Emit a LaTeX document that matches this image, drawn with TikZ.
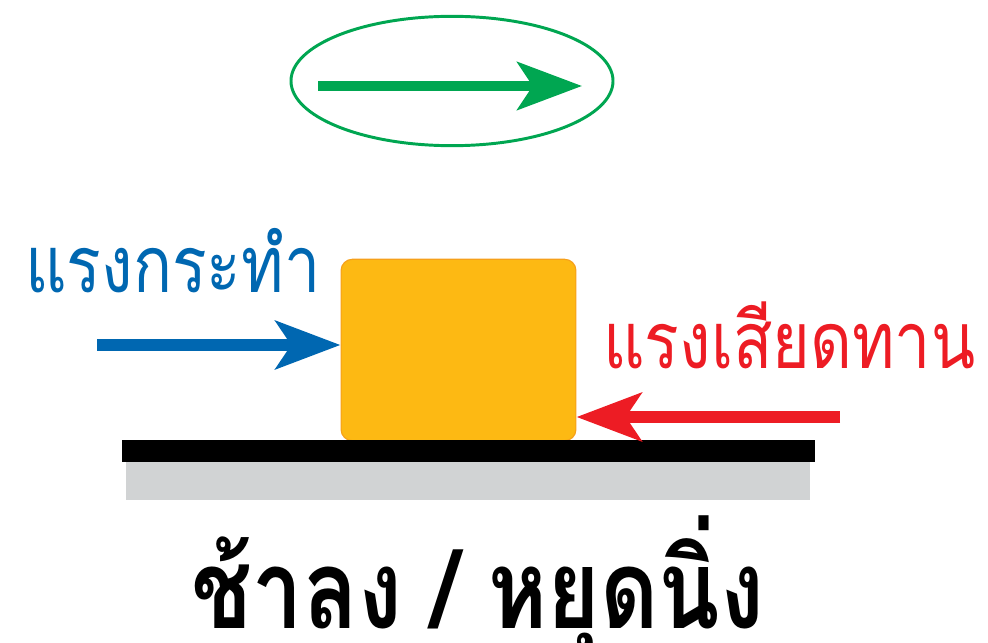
\documentclass[tikz,border=0pt]{standalone}
\usepackage{fontspec}
\newfontfamily\thaifont[Script=Thai, FakeStretch=0.82]{Loma}
\usetikzlibrary{arrows.meta, positioning, shapes.geometric}
\definecolor{pushblue}{HTML}{0067B1}
\definecolor{fricred}{HTML}{ED1C24}
\definecolor{movegreen}{HTML}{00A651}
\definecolor{blockorange}{HTML}{FDB913}
\definecolor{blockedge}{HTML}{F6A01A}
\definecolor{floorgray}{HTML}{D1D3D4}

\begin{document}
\begin{tikzpicture}[x=0.025cm, y=-0.025cm,
  force/.style={line width=8.5pt, -{Stealth[length=46pt, width=34pt, inset=11pt]}},
  label/.style={anchor=base west, inner sep=0pt, font=\thaifont\fontsize{56}{56}\selectfont}]
  \useasboundingbox (0,0) rectangle (988,643);

  % Direction of motion
  \node[ellipse, draw=movegreen, line width=2.1pt, minimum width=229pt, minimum height=92pt] (dir) at (452,81) {};
  \coordinate (dirtail) at (318,86);
  \coordinate (dirtip) at (582,86);
  \draw[force, movegreen, line width=7pt] (dirtail) -- (dirtip);

  % Block
  \node[fill=blockorange, draw=blockedge, line width=0.8pt, rounded corners=8pt, inner sep=0pt,
        minimum width=167pt, minimum height=129pt] (block) at (458.5,350) {};

  % Floor
  \node[fill=floorgray, inner sep=0pt, minimum width=486pt, minimum height=27pt] (base) at (468,481) {};
  \node[fill=black, inner sep=0pt, minimum width=493pt, minimum height=15.6pt] (floor) at (468.5,451) {};

  % Applied force
  \node[label, text=pushblue] (pushlabel) at (25,293) {แรงกระทำ};
  \coordinate (pushtail) at (97,345);
  \draw[force, pushblue] (pushtail) -- (block.west |- pushtail);

  % Friction
  \node[label, text=fricred] (friclabel) at (603,368) {แรงเสียดทาน};
  \coordinate (frictail) at (840,417);
  \draw[force, fricred] (frictail) -- (block.east |- frictail);

  % Result
  \node[anchor=base, inner sep=0pt, font=\thaifont\bfseries\fontsize{78}{78}\selectfont] (result) at (478,628) {ช้าลง / หยุดนิ่ง};
\end{tikzpicture}
\end{document}
